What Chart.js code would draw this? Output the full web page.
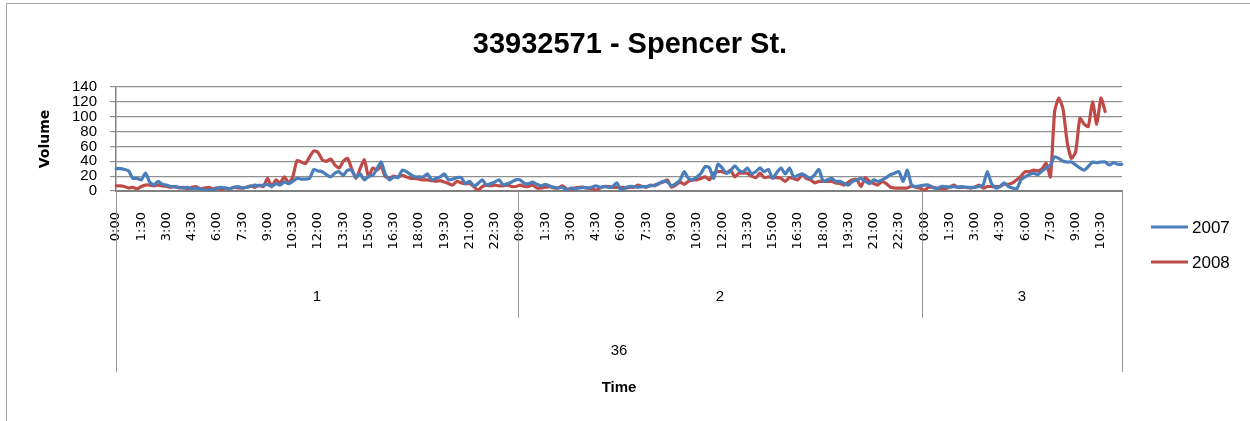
<!DOCTYPE html>
<html lang="en">
<head>
  <meta charset="UTF-8">
  <title>33932571 - Spencer St.</title>
  <script src="https://cdn.jsdelivr.net/npm/chart.js"></script>
  <style>
    html, body { margin: 0; padding: 0; background: #fff; }
    #wrap { position: relative; width: 1250px; height: 421px; overflow: hidden; }
    #frame { position: absolute; left: 6px; top: 3px; width: 1300px; height: 500px; border: 1px solid #a6a6a6; }
    canvas { position: absolute; left: 0; top: 0; }
  </style>
</head>
<body>
  <div id="wrap">
    <div id="frame"></div>
    <canvas id="volChart" width="1250" height="421"></canvas>
  </div>

  <script>
    // 15-minute counts, day 1 and 2 full, day 3 until late morning
    const day1_2007 = [30,30,29,27,17,17,15,24,12,8, 13,9,8,6,6,5,4,5,3,4, 3,1,2,1,4,5,4,3,5,6,
      4,5,6,8,7,8,9,6,10,8, 12,10,13,17,16,16,17,29,27,26, 22,19,24,26,21,28,28,18,23,15,
      20,21,30,39,22,15,19,18,28,26, 22,19,19,19,23,15,17,19,23,15, 16,18,18,10,13,7,10,15,8,10,
      12,15,8,10,12,15];
    const day2_2007 = [15,10,10,12,9,7,9,7,5,4, 5,1,4,3,4,5,4,5,7,5, 6,5,6,11,0,4,6,6,5,6,
      6,7,8,10,13,12,7,10,15,26, 17,15,19,24,33,31,17,36,31,24, 27,34,28,26,31,23,26,31,26,29,
      17,25,31,23,31,19,21,23,20,17, 22,29,13,15,17,13,13,10,8,13, 15,17,13,10,15,13,15,18,22,24,
      26,13,28,8,6,7];
    const day3_2007 = [8,8,5,3,6,6,5,6,5,6, 5,5,5,6,8,26,10,4,6,11, 6,4,3,15,19,22,24,22,27,31,
      35,46,44,40,39,39,35,31,28,33, 39,38,39,39,35,38,36,36];

    const day1_2008 = [7,7,6,4,5,3,6,8,8,7, 8,7,6,5,6,4,5,3,5,6, 3,4,5,3,4,2,4,3,5,4,
      4,5,7,5,8,6,17,6,15,11, 19,11,19,41,39,37,46,54,52,42, 40,43,35,31,40,44,30,17,30,42,
      19,31,28,33,19,18,20,19,21,19, 17,17,16,15,15,14,13,14,12,10, 8,13,11,10,10,6,1,6,8,7,
      8,7,7,8,6,6];
    const day2_2008 = [8,6,6,8,4,4,5,6,4,4, 7,3,1,4,5,5,4,3,1,4, 6,6,5,5,5,4,5,5,8,6,
      5,8,7,10,12,15,5,8,12,9, 13,15,15,17,19,15,24,26,26,24, 28,19,24,24,24,20,18,24,18,19,
      18,18,17,13,18,17,15,22,17,15, 11,13,13,13,13,11,10,8,12,15, 15,6,18,13,10,8,13,10,5,4,
      4,4,4,7,5,4];
    const day3_2008 = [1,5,5,4,3,3,5,8,5,5, 5,4,5,8,4,6,6,6,6,9, 9,11,15,20,26,26,28,27,30,37,
      19,107,125,110,65,44,53,98,90,87, 120,90,125,107];

    const dayNames = ['1', '2', '3'];
    const daySlots = [96, 96, 48];
    const groupName = '36';
    const seriesNames = ['2007', '2008'];
    const seriesColors = ['#4a7ebb', '#be4b48'];

    // time-of-day category labels, one per 15 minutes
    const timeLabels = [];
    daySlots.forEach(n => {
      for (let s = 0; s < n; s++) {
        const h = Math.floor(s / 4);
        const m = (s % 4) * 15;
        timeLabels.push(h + ':' + (m < 10 ? '0' + m : m));
      }
    });

    const pad = (arr, n) => arr.concat(Array(n - arr.length).fill(null));
    const vol2007 = [].concat(day1_2007, day2_2007, pad(day3_2007, daySlots[2]));
    const vol2008 = [].concat(day1_2008, day2_2008, pad(day3_2008, daySlots[2]));

    // title, legend and the day / group rows under the time labels
    const extras = {
      id: 'extras',
      afterDraw(chart) {
        const { ctx, chartArea: area, scales: { x } } = chart;
        ctx.save();
        ctx.fillStyle = '#000';
        ctx.textAlign = 'center';
        ctx.textBaseline = 'middle';
        ctx.font = 'bold 29px "Liberation Sans", Arial, sans-serif';
        ctx.fillText('33932571 - Spencer St.', 630, 45);

        // group separators
        const edges = [area.left];
        let idx = 0;
        daySlots.forEach((n, d) => {
          idx += n;
          if (d < daySlots.length - 1) {
            edges.push((x.getPixelForValue(idx - 1) + x.getPixelForValue(idx)) / 2);
          }
        });
        edges.push(area.right);

        ctx.strokeStyle = '#999';
        ctx.lineWidth = 1;
        edges.forEach((ex, i) => {
          const outer = i === 0 || i === edges.length - 1;
          const px = Math.round(ex) + 0.5;
          ctx.beginPath();
          ctx.moveTo(px, area.bottom);
          ctx.lineTo(px, outer ? 372 : 318);
          ctx.stroke();
        });

        ctx.font = '15px "Liberation Sans", Arial, sans-serif';
        dayNames.forEach((name, d) => {
          ctx.fillText(name, (edges[d] + edges[d + 1]) / 2, 297);
        });
        ctx.fillText(groupName, (area.left + area.right) / 2, 351);

        // legend
        ctx.textAlign = 'left';
        ctx.font = '17px "Liberation Sans", Arial, sans-serif';
        seriesNames.forEach((name, i) => {
          const ly = 227 + i * 35;
          ctx.strokeStyle = seriesColors[i];
          ctx.lineWidth = 3;
          ctx.beginPath();
          ctx.moveTo(1151, ly);
          ctx.lineTo(1188, ly);
          ctx.stroke();
          ctx.fillText(name, 1192, ly + 1);
        });
        ctx.restore();
      }
    };

    const ctx = document.getElementById('volChart').getContext('2d');
    new Chart(ctx, {
      type: 'line',
      data: {
        labels: timeLabels,
        datasets: [
          { label: seriesNames[0], data: vol2007, borderColor: seriesColors[0], backgroundColor: seriesColors[0] },
          { label: seriesNames[1], data: vol2008, borderColor: seriesColors[1], backgroundColor: seriesColors[1] }
        ]
      },
      options: {
        responsive: false,
        animation: false,
        layout: { padding: { left: 0, right: 128, top: 87, bottom: 0 } },
        elements: {
          point: { radius: 0 },
          line: { borderWidth: 3.2, tension: 0.2, borderJoinStyle: 'round', borderCapStyle: 'round' }
        },
        plugins: {
          legend: { display: false },
          title: { display: false },
          tooltip: { enabled: false }
        },
        scales: {
          x: {
            offset: false,
            afterFit: s => { s.height = 230; },
            grid: { display: false, drawTicks: false },
            border: { display: true, color: '#808080', width: 2 },
            ticks: {
              autoSkip: false,
              minRotation: 90,
              maxRotation: 90,
              padding: 21,
              color: '#000',
              font: { family: '"DejaVu Sans", sans-serif', size: 13 },
              callback: (v, i) => (i % 6 === 0 ? timeLabels[i] : null)
            },
            title: {
              display: true,
              text: 'Time',
              color: '#000',
              font: { family: '"Liberation Sans", Arial, sans-serif', size: 15, weight: 'bold' },
              padding: { top: 0, bottom: 24 }
            }
          },
          y: {
            min: 0,
            max: 140,
            afterFit: s => { s.width = 116; },
            grid: { color: '#8f8f8f', lineWidth: 1.2, tickLength: 6 },
            border: { display: true, color: '#808080', width: 1.5 },
            ticks: {
              stepSize: 20,
              autoSkip: false,
              padding: 13,
              color: '#000',
              font: { family: '"Liberation Sans", Arial, sans-serif', size: 15, lineHeight: 1 }
            },
            title: {
              display: true,
              text: 'Volume',
              color: '#000',
              font: { family: '"DejaVu Sans", sans-serif', size: 14, weight: 'bold' },
              padding: { top: 37, bottom: 0 }
            }
          }
        }
      },
      plugins: [extras]
    });
  </script>
</body>
</html>
